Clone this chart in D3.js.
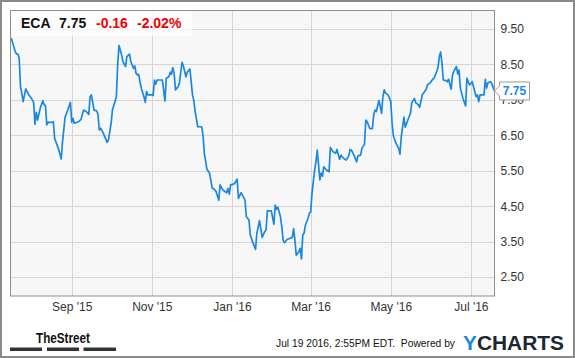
<!DOCTYPE html>
<html>
<head>
<meta charset="utf-8">
<script src="https://cdn.jsdelivr.net/npm/d3@7"></script>
<style>
  html, body { margin: 0; padding: 0; background: #fff; }
  svg { display: block; font-family: "Liberation Sans", Arial, sans-serif; }
</style>
</head>
<body>
<svg id="chart" width="575" height="358"></svg>
<script>
// ---- Data (ECA daily close) ----
const startDate = "2015-07-16";
const endDate = "2016-07-19";
// trading-day offsets (days after startDate)
const dayOffsets = [
  1,4,5,6,7,8,9,10,12,14,16,18,19,20,21,23,25,26,27,28,29,31,33,34,37,39,40,42,44,46,
  47,48,49,52,54,56,58,60,61,62,64,66,67,68,69,71,74,75,77,78,80,81,82,83,85,86,88,89,91,92,
  94,95,96,97,98,99,100,102,103,104,105,108,109,110,111,112,116,117,118,119,121,122,123,124,125,126,128,129,131,132,
  134,135,137,139,140,141,143,146,147,148,150,152,154,155,157,159,160,162,165,166,167,168,170,171,173,174,176,177,179,180,
  182,183,185,187,188,190,191,192,194,195,196,199,201,202,203,204,206,207,208,209,211,213,215,216,217,218,220,221,222,223,
  224,225,227,228,229,230,232,233,234,236,237,238,239,241,243,244,246,248,249,251,252,254,256,258,259,260,262,264,265,267,
  268,270,271,272,274,276,277,278,279,281,282,283,284,285,286,288,290,291,292,294,296,297,298,300,301,303,305,306,308,309,
  311,312,314,315,317,318,320,322,323,325,326,327,328,329,330,332,333,334,336,337,338,340,341,342,343,345,347,348,350,352,
  354,355,356,357,358,361,362,363,364,366,367,369
];
const closes = [
  9.24,8.86,8.79,8.79,8.67,7.87,7.69,7.45,7.81,7.66,7.56,7.43,6.81,7.15,6.93,7.26,7.47,7.36,7.34,6.79,6.87,6.86,6.88,6.41,6.11,5.83,6.32,7.02,7.21,7.43,
  6.86,6.98,6.84,6.88,6.94,7.21,7.17,7.09,7.59,7.64,7.21,7.19,7.09,6.65,6.70,6.56,6.30,6.37,6.84,7.21,7.45,7.59,8.48,9.03,8.77,8.58,8.44,8.72,8.79,8.58,
  8.39,8.46,8.25,8.20,8.22,8.01,7.83,7.59,7.43,7.73,7.64,7.64,7.62,8.06,7.94,8.06,8.06,7.78,7.47,8.11,8.15,8.28,8.22,8.41,8.25,7.78,7.87,7.97,8.56,8.46,
  8.15,8.28,8.37,7.64,7.47,7.17,6.74,6.74,6.50,5.99,5.54,5.43,5.00,5.00,4.91,4.67,5.10,4.96,4.88,5.00,4.84,5.10,5.12,5.14,5.26,4.72,4.88,4.81,4.67,4.20,
  4.11,3.69,3.47,3.28,3.73,4.09,3.87,3.62,3.78,3.83,4.37,4.37,3.99,4.53,4.41,4.47,4.20,3.92,3.54,3.47,3.56,3.59,3.62,3.87,3.54,3.12,3.21,3.31,3.01,3.69,
  3.74,3.97,4.16,4.30,4.34,4.86,5.52,5.75,6.08,5.24,5.43,5.35,5.61,5.52,5.47,6.16,6.04,5.99,6.10,5.82,5.94,5.85,5.80,5.92,6.10,6.08,5.94,5.75,5.92,5.94,
  6.13,6.25,6.93,6.88,6.69,6.69,7.07,7.21,7.17,7.48,7.31,7.12,7.59,7.78,7.69,7.64,7.45,6.84,6.48,6.27,6.13,5.97,6.46,7.01,6.73,6.93,7.12,7.42,7.54,7.42,
  7.36,7.29,7.64,7.69,7.80,7.92,7.98,8.08,8.11,8.30,8.42,8.72,8.85,8.53,8.06,8.04,8.01,8.08,7.80,8.20,8.30,8.44,8.23,8.34,7.83,7.54,7.33,8.11,7.92,8.01,
  7.73,7.59,7.64,7.45,7.64,7.64,8.08,7.83,7.98,8.01,7.95,7.75
];
const yTicks = [2.5, 3.5, 4.5, 5.5, 6.5, 7.5, 8.5, 9.5];
const xTickDates = ["2015-09-01","2015-11-01","2016-01-01","2016-03-01","2016-05-01","2016-07-01"];
const xTickLabels = ["Sep '15","Nov '15","Jan '16","Mar '16","May '16","Jul '16"];
const ticker = "ECA";
const lastPrice = 7.75;
const change = "-0.16";
const changePct = "-2.02%";
const timestamp = "Jul 19 2016, 2:55PM EDT.  Powered by";

// ---- Build ----
const parse = d3.timeParse("%Y-%m-%d");
const t0 = parse(startDate);
const data = dayOffsets.map((o, i) => ({ date: d3.timeDay.offset(t0, o), value: closes[i] }));

const svg = d3.select("#chart");
const L = 10, R = 494.5, T = 10, B = 296;

const x = d3.scaleTime().domain([t0, parse(endDate)]).range([L, R]);
const y = d3.scaleLinear().domain([1.98, 10.02]).range([295.5, 10.5]);

// outer frame
svg.append("rect").attr("x", 1).attr("y", 1).attr("width", 573).attr("height", 356)
  .attr("fill", "#fff").attr("stroke", "#8a8a8a").attr("stroke-width", 2);

// plot background
svg.append("rect").attr("x", L).attr("y", T).attr("width", R - L).attr("height", B - T)
  .attr("fill", "#f7f7f7");

// gridlines
const grid = svg.append("g").attr("stroke", "#d6d6d6").attr("stroke-width", 1);
grid.selectAll("line.h").data(yTicks).join("line").attr("class", "h")
  .attr("x1", L).attr("x2", R)
  .attr("y1", d => Math.round(y(d)) + 0.5).attr("y2", d => Math.round(y(d)) + 0.5);
grid.selectAll("line.v").data(xTickDates.map(parse)).join("line").attr("class", "v")
  .attr("y1", T).attr("y2", B)
  .attr("x1", d => Math.round(x(d)) + 0.5).attr("x2", d => Math.round(x(d)) + 0.5);

// price line
svg.append("path").datum(data)
  .attr("fill", "none").attr("stroke", "#1a88e3").attr("stroke-width", 1.7)
  .attr("stroke-linejoin", "round")
  .attr("d", d3.line().x(d => x(d.date)).y(d => y(d.value)));

// plot frame
svg.append("rect").attr("x", L + 0.5).attr("y", T + 0.5).attr("width", R - L - 0.5).attr("height", B - T - 0.5)
  .attr("fill", "none").attr("stroke", "#8f8f8f").attr("stroke-width", 1);

// title box
svg.append("rect").attr("x", L + 1).attr("y", T + 1).attr("width", 181).attr("height", 25)
  .attr("fill", "#ffffff").attr("fill-opacity", 0.75);
const title = svg.append("text").attr("x", 21).attr("y", 28)
  .attr("font-size", 14).attr("font-weight", "bold");
title.append("tspan").attr("x", 21).attr("fill", "#111").text(ticker);
title.append("tspan").attr("x", 59).attr("fill", "#111").text(d3.format(".2f")(lastPrice));
title.append("tspan").attr("x", 96).attr("fill", "#f20000").text(change);
title.append("tspan").attr("x", 137).attr("fill", "#f20000").text(changePct);

// y axis (right)
const yAxis = svg.append("g").attr("transform", `translate(${R},0)`)
  .call(d3.axisRight(y).tickValues(yTicks).tickFormat(d3.format(".2f")).tickSize(0).tickPadding(6));
yAxis.select(".domain").remove();
yAxis.selectAll("text").attr("font-size", 12).attr("fill", "#333")
  .attr("font-family", "Liberation Sans, Arial, sans-serif");

// x axis
const xAxis = svg.append("g").attr("transform", `translate(0,${B})`)
  .call(d3.axisBottom(x).tickValues(xTickDates.map(parse))
    .tickFormat((d, i) => xTickLabels[i]).tickSize(0).tickPadding(6));
xAxis.select(".domain").remove();
xAxis.selectAll("text").attr("font-size", 12).attr("fill", "#333")
  .attr("font-family", "Liberation Sans, Arial, sans-serif");

// last-price flag
const fy = y(lastPrice);
svg.append("path")
  .attr("d", `M${R},${fy} L${R + 5},${fy - 5} L${R + 5},${fy - 9} L${R + 35},${fy - 9} L${R + 35},${fy + 9} L${R + 5},${fy + 9} L${R + 5},${fy + 5} Z`)
  .attr("fill", "#fff").attr("stroke", "#999").attr("stroke-width", 1);
svg.append("text").attr("x", R + 20).attr("y", fy + 4.5).attr("text-anchor", "middle")
  .attr("font-size", 12).attr("font-weight", "bold").attr("fill", "#1a88e3")
  .text(d3.format(".2f")(lastPrice));

// footer: TheStreet logo
svg.append("text").attr("x", 36).attr("y", 343)
  .attr("font-family", "Liberation Sans Narrow, Arial Narrow, Liberation Sans, sans-serif")
  .attr("font-size", 15.5).attr("font-weight", "bold").attr("fill", "#111")
  .attr("textLength", 54).attr("lengthAdjust", "spacingAndGlyphs").text("TheStreet");
svg.selectAll("rect.bar").data([[10, 42], [47, 79], [83.5, 116]]).join("rect").attr("class", "bar")
  .attr("x", d => d[0]).attr("width", d => d[1] - d[0]).attr("y", 347.5).attr("height", 3.5).attr("fill", "#333");

// footer: timestamp + YCHARTS
svg.append("text").attr("x", 276).attr("y", 347)
  .attr("font-size", 11.5).attr("fill", "#111")
  .attr("textLength", 179).attr("lengthAdjust", "spacingAndGlyphs")
  .attr("xml:space", "preserve").text(timestamp);
const yc = svg.append("text").attr("x", 463).attr("y", 350)
  .attr("font-size", 21).attr("font-weight", "bold")
  .attr("font-family", "Liberation Sans, Arial, sans-serif")
  .attr("textLength", 101).attr("lengthAdjust", "spacingAndGlyphs");
yc.append("tspan").attr("fill", "#1a88e3").text("Y");
yc.append("tspan").attr("fill", "#1c2733").text("CHARTS");
</script>
</body>
</html>
